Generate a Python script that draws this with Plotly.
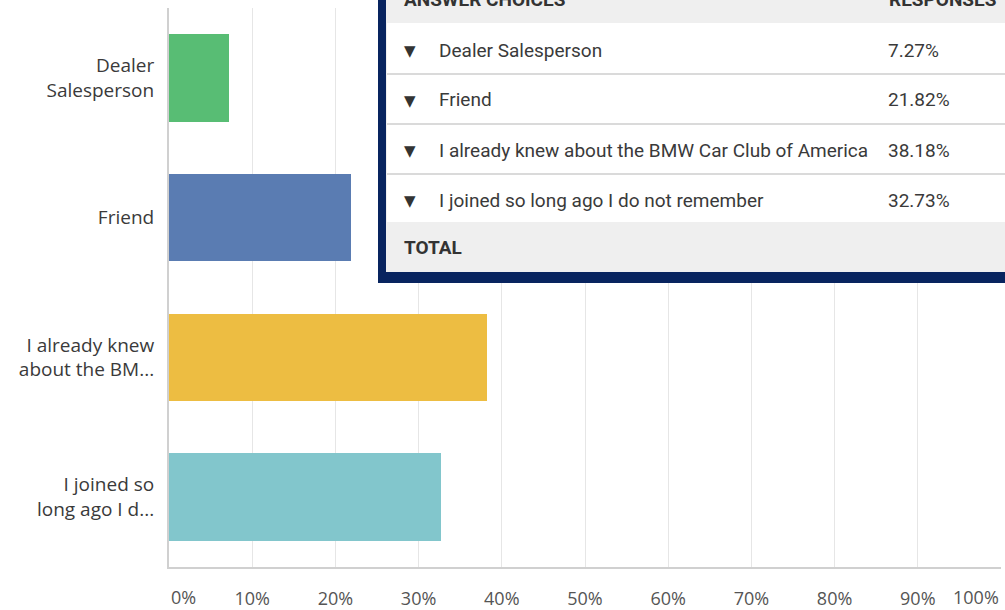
import plotly.graph_objects as go

# ---- data ----
choices = [
    "Dealer Salesperson",
    "Friend",
    "I already knew about the BMW Car Club of America",
    "I joined so long ago I do not remember",
]
tick_labels = [
    "Dealer<br>Salesperson",
    "Friend",
    "I already knew<br>about the BM...",
    "I joined so<br>long ago I d...",
]
responses = [7.27, 21.82, 38.18, 32.73]
bar_colors = ["#58bd74", "#5a7cb2", "#edbd42", "#82c6cc"]
x_ticks = [0, 10, 20, 30, 40, 50, 60, 70, 80, 90, 100]
x_tick_text = [f"{v}%" for v in x_ticks]

# ---- geometry ----
W, H = 1005, 610
L, R, T, B = 169, 4, 8, 43
PW, PH = W - L - R, H - T - B


def px(x):
    return (x - L) / PW


def py(y):
    return (H - B - y) / PH


fig = go.Figure()
fig.add_trace(go.Bar(
    x=responses,
    y=choices,
    orientation="h",
    marker=dict(color=bar_colors, line=dict(width=0)),
    width=0.625,
    hoverinfo="skip",
))

xfont = dict(family="Open Sans, sans-serif", size=18, color="#555555")
fig.update_layout(
    width=W, height=H,
    margin=dict(l=L, r=R, t=T, b=B, pad=0, autoexpand=False),
    paper_bgcolor="white", plot_bgcolor="white",
    showlegend=False,
    bargap=0,
    xaxis=dict(
        range=[0, 100], tickvals=x_ticks[1:-1], ticktext=x_tick_text[1:-1],
        showgrid=True, gridcolor="#e6e6e6", gridwidth=1,
        zeroline=False, showline=True, linecolor="#d0d0d0", linewidth=2,
        ticks="", ticklabelstandoff=14, automargin=False,
        tickfont=xfont,
        fixedrange=True,
    ),
    yaxis=dict(
        categoryorder="array", categoryarray=choices, autorange="reversed",
        tickvals=choices, ticktext=tick_labels,
        showgrid=False, zeroline=False,
        showline=True, linecolor="#d0d0d0", linewidth=2,
        ticks="", ticklabelstandoff=9, automargin=False,
        tickfont=dict(family="Open Sans, sans-serif", size=19, color="#3a3a3a"),
        fixedrange=True,
    ),
)

# x tick labels at the ends, justified inside the plot like the original
fig.add_annotation(x=0, y=0, xref="x", yref="paper", text=x_tick_text[0],
                   xanchor="left", yanchor="top", yshift=-16, showarrow=False,
                   font=xfont)
fig.add_annotation(x=100, y=0, xref="x", yref="paper", text=x_tick_text[-1],
                   xanchor="right", yanchor="top", yshift=-16, showarrow=False,
                   font=xfont)

# ---- overlay table panel ----
navy = "#08245f"
gray = "#efefef"
fig.add_shape(type="rect", xref="paper", yref="paper", layer="above",
              x0=px(378), x1=px(1015), y0=py(283), y1=py(-10),
              fillcolor=navy, line=dict(width=0))
fig.add_shape(type="rect", xref="paper", yref="paper", layer="above",
              x0=px(386), x1=px(1015), y0=py(272), y1=py(-10),
              fillcolor=gray, line=dict(width=0))
fig.add_shape(type="rect", xref="paper", yref="paper", layer="above",
              x0=px(387), x1=px(1015), y0=py(222), y1=py(23),
              fillcolor="white", line=dict(width=0))
for yy in [74, 124, 174]:
    fig.add_shape(type="line", xref="paper", yref="paper", layer="above",
                  x0=px(387), x1=px(1015), y0=py(yy), y1=py(yy),
                  line=dict(color="#dadada", width=2))

tfont = "Roboto, sans-serif"
fig.add_annotation(x=px(402), y=py(-1), xref="paper", yref="paper",
                   text="<b>ANSWER CHOICES</b>", xanchor="left", yanchor="middle",
                   showarrow=False, font=dict(family=tfont, size=19, color="#333333"))
fig.add_annotation(x=px(887), y=py(-1), xref="paper", yref="paper",
                   text="<b>RESPONSES</b>", xanchor="left", yanchor="middle",
                   showarrow=False, font=dict(family=tfont, size=19, color="#333333"))
row_centers = [50, 100, 150, 200]
for name, val, yc in zip(choices, responses, row_centers):
    fig.add_annotation(x=px(410), y=py(yc + 1), xref="paper", yref="paper",
                       text="▼", xanchor="center", yanchor="middle", showarrow=False,
                       font=dict(family="DejaVu Sans, sans-serif", size=15, color="#333333"))
    fig.add_annotation(x=px(437), y=py(yc), xref="paper", yref="paper",
                       text=name, xanchor="left", yanchor="middle", showarrow=False,
                       font=dict(family=tfont, size=19, color="#3a3a3a"))
    fig.add_annotation(x=px(886), y=py(yc), xref="paper", yref="paper",
                       text=f"{val:.2f}%", xanchor="left", yanchor="middle", showarrow=False,
                       font=dict(family=tfont, size=19, color="#3a3a3a"))
fig.add_annotation(x=px(402), y=py(247), xref="paper", yref="paper",
                   text="<b>TOTAL</b>", xanchor="left", yanchor="middle", showarrow=False,
                   font=dict(family=tfont, size=19, color="#333333"))

fig.write_html("out.html", config={"displayModeBar": False},
               post_script="document.body.style.margin='0';")
